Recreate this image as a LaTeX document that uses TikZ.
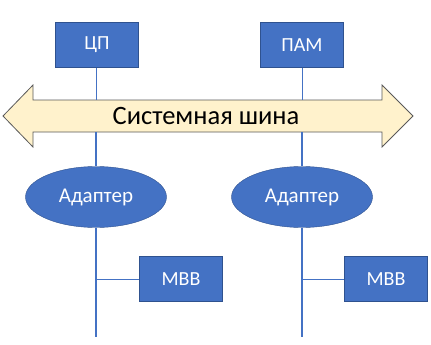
\documentclass[tikz,border=0pt]{standalone}
\usepackage{fontspec}
\setmainfont{Carlito}
\usepackage{tikz}
\usetikzlibrary{positioning,shapes.geometric}
\definecolor{busfill}{HTML}{FFF2CC}
\definecolor{busline}{HTML}{595959}
\definecolor{unitblue}{HTML}{4472C4}
\definecolor{unitedge}{HTML}{2F528F}

\begin{document}
\begin{tikzpicture}[x=1pt, y=-1pt, font=\fontsize{20}{24}\selectfont,
    unit/.style={draw=unitedge, fill=unitblue, text=white,
        minimum width=83pt, minimum height=45pt, inner sep=1pt},
    adapter/.style={ellipse, draw=unitedge, fill=unitblue, text=white,
        minimum width=141pt, minimum height=61pt, inner sep=0pt,
        font=\fontsize{21}{24}\selectfont},
    tap/.style={draw=unitblue, line width=0.8pt},
    trunk/.style={draw=unitblue, line width=2.6pt}]
    \useasboundingbox (0,0) rectangle (431,345);
    % bus
    \draw[draw=busline, fill=busfill, line width=0.8pt]
        (3,116) -- (33,85) -- (33,100) -- (382,100) -- (382,85) -- (413,116)
        -- (382,147) -- (382,132) -- (33,132) -- (33,147) -- cycle;
    \node[font=\fontsize{26.5}{30}\selectfont] (bus) at (206,116) {Системная шина};
    \coordinate (bustop) at (0,100);
    \coordinate (busbot) at (0,132);
    % units
    \node[unit] (cpu) at (97,45) {ЦП};
    \node[unit] (mem) at (302,45) {ПАМ};
    \node[adapter] (ad1) at (96,197) {Адаптер};
    \node[adapter] (ad2) at (302,197) {Адаптер};
    \node[unit] (io1) at (181,279) {МВВ};
    \node[unit] (io2) at (386,279) {МВВ};
    \coordinate (end1) at (96,337);
    \coordinate (end2) at (302,337);
    % links
    \draw[tap] (cpu.south -| ad1) -- (bustop -| ad1);
    \draw[tap] (mem.south -| ad2) -- (bustop -| ad2);
    \draw[trunk] (busbot -| ad1) -- (ad1.north);
    \draw[trunk] (busbot -| ad2) -- (ad2.north);
    \draw[trunk] (ad1.south) -- (end1);
    \draw[trunk] (ad2.south) -- (end2);
    \draw[tap] (io1.west) -- (io1.west -| ad1);
    \draw[tap] (io2.west) -- (io2.west -| ad2);
\end{tikzpicture}
\end{document}
